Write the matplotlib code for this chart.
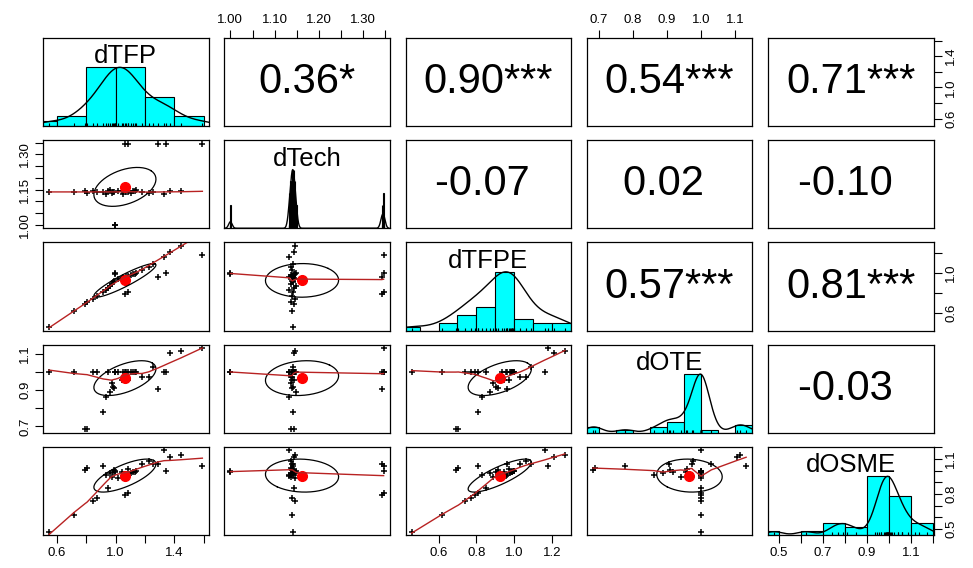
import numpy as np
import matplotlib
matplotlib.use('Agg')
import matplotlib.pyplot as plt
from matplotlib.patches import Rectangle

plt.rcParams['font.family'] = ['Liberation Sans', 'DejaVu Sans']

# --- data (one value per unit) ---
var_names = ['dTFP', 'dTech', 'dTFPE', 'dOTE', 'dOSME']

dTFP  = [0.546, 0.715, 0.790, 0.805, 0.845, 0.870, 0.915, 0.935, 0.950, 0.960, 0.972, 0.980, 0.990,
         1.016, 1.040, 1.050, 1.070, 1.085, 1.105, 1.120, 1.135, 1.142, 1.180, 1.225, 1.255, 1.330,
         1.370, 1.448, 1.066, 1.086, 1.290, 1.345, 1.592, 0.994, 0.998]
dTech = [1.141, 1.139, 1.143, 1.136, 1.146, 1.139, 1.141, 1.133, 1.143, 1.149, 1.136, 1.141, 1.139,
         1.146, 1.143, 1.133, 1.141, 1.139, 1.136, 1.146, 1.143, 1.149, 1.139, 1.136, 1.141, 1.133,
         1.143, 1.146, 1.342, 1.346, 1.342, 1.346, 1.346, 1.000, 1.000]
dTFPE = [0.458, 0.620, 0.690, 0.705, 0.740, 0.770, 0.810, 0.830, 0.850, 0.870, 0.890, 0.905, 0.915,
         0.935, 0.945, 0.955, 0.962, 0.970, 0.978, 0.985, 0.990, 0.997, 1.030, 1.060, 1.090, 1.160,
         1.210, 1.267, 0.790, 0.810, 0.960, 1.000, 1.180, 0.994, 0.990]
dOTE  = [1.000, 1.000, 0.683, 0.688, 1.000, 1.000, 0.778, 0.862, 1.000, 0.888, 0.940, 0.918, 0.910,
         1.000, 0.955, 1.000, 1.000, 0.958, 1.000, 1.000, 1.000, 1.000, 0.973, 0.975, 1.030, 1.000,
         1.104, 1.113, 1.000, 1.000, 0.905, 1.000, 1.132, 1.000, 1.000]
dOSME = [0.477, 0.620, 1.010, 1.025, 0.740, 0.770, 1.040, 0.963, 0.850, 0.980, 0.947, 0.985, 1.005,
         0.935, 0.990, 0.955, 0.962, 1.012, 0.978, 0.985, 0.990, 0.997, 1.058, 1.087, 1.058, 1.175,
         1.120, 1.138, 0.790, 0.810, 1.060, 0.995, 1.040, 0.994, 0.990]

# correlation labels shown in the upper panels (row by row)
cor_text = ['0.36*', '0.90***', '0.54***', '0.71***',
            '-0.07 ', '0.02 ', '-0.10 ',
            '0.57***', '0.81***',
            '-0.03 ']

# how many ticks between labels (R drops labels that would overlap)
x_label_step = [2, 2, 1, 1, 2]
y_label_step = [2, 3, 2, 2, 3]

data = [np.array(v, dtype=float) for v in (dTFP, dTech, dTFPE, dOTE, dOSME)]
n = len(data)


def pretty_unit(lo, hi, ndiv, h, h5):
    cell = (hi - lo) / ndiv
    U = 10 ** np.floor(np.log10(cell))
    unit = U
    if 2 * U - cell < h * (cell - unit):
        unit = 2 * U
        if 5 * U - cell < h5 * (cell - unit):
            unit = 5 * U
            if 10 * U - cell < h * (cell - unit):
                unit = 10 * U
    return unit


def usr_range(v):
    d = 0.04 * (v.max() - v.min())
    return v.min() - d, v.max() + d


def axis_ticks(lo, hi):
    unit = pretty_unit(lo, hi, 5, 0.8, 1.7)
    k0 = np.ceil(lo / unit - 1e-7)
    k1 = np.floor(hi / unit + 1e-7)
    ticks = np.arange(k0, k1 + 1) * unit
    dec = int(max(0, -np.floor(np.log10(unit) + 1e-9)))
    return ticks, ['%.*f' % (dec, t) for t in ticks]


def hist_breaks(v):
    nclass = int(np.ceil(np.log2(len(v)) + 1))
    unit = pretty_unit(v.min(), v.max(), nclass, 1.5, 2.75)
    k0 = np.floor(v.min() / unit + 1e-7)
    k1 = np.ceil(v.max() / unit - 1e-7)
    return np.round(np.arange(k0, k1 + 1) * unit, 10)


def density(v):
    q1, q3 = np.percentile(v, [25, 75])
    bw = 1.06 * min(np.std(v, ddof=1), (q3 - q1) / 1.34) * len(v) ** -0.2 * 1.2
    grid = np.linspace(v.min() - 3 * bw, v.max() + 3 * bw, 512)
    d = np.exp(-0.5 * ((grid[:, None] - v[None, :]) / bw) ** 2).sum(axis=1)
    return grid, d / d.max()


def local_fit(x, y, rw, i, ns, rng):
    d = np.abs(x - x[i])
    h = np.sort(d)[ns - 1]
    if h > 0:
        u = d / h
        w = np.where(u < 0.999, (1 - np.clip(u, 0, 1) ** 3) ** 3, 0.0)
        w[u <= 0.001] = 1.0
    else:
        w = (d == 0).astype(float)
    w = w * rw
    sw = w.sum()
    if sw <= 0:
        return y[i]
    xm = (w * x).sum() / sw
    ym = (w * y).sum() / sw
    vx = (w * (x - xm) ** 2).sum()
    if np.sqrt(vx / sw) > 0.001 * rng:
        b = (w * (x - xm) * (y - ym)).sum() / vx
        return ym + b * (x[i] - xm)
    return ym


def lowess(x, y, f=2/3, iters=3):
    o = np.argsort(x, kind='stable')
    x = x[o]; y = y[o]
    m = len(x)
    ns = max(2, min(m, int(f * m + 1e-7)))
    rng = x.max() - x.min()
    delta = 0.01 * rng
    rw = np.ones(m)
    fit = np.zeros(m)
    for it in range(iters + 1):
        last = -1
        i = 0
        while True:
            fit[i] = local_fit(x, y, rw, i, ns, rng)
            if last < i - 1:
                den = x[i] - x[last]
                for k in range(last + 1, i):
                    a = (x[k] - x[last]) / den if den > 0 else 0
                    fit[k] = a * fit[i] + (1 - a) * fit[last]
            last = i
            cut = x[last] + delta
            i = last + 1
            while i < m:
                if x[i] > cut:
                    break
                if x[i] == x[last]:
                    fit[i] = fit[last]
                    last = i
                i += 1
            i = max(last + 1, i - 1)
            if last >= m - 1:
                break
        if it == iters:
            break
        res = y - fit
        med = np.median(np.abs(res))
        if med == 0:
            break
        u = res / (6 * med)
        rw = np.where(np.abs(u) < 1, (1 - u ** 2) ** 2, 0.0)
    return x, fit


def ellipse(xm, ym, xs, ys, r, seg=51):
    ang = np.arange(seg + 1) * 2 * np.pi / seg
    circ = np.column_stack([np.cos(ang), np.sin(ang)])
    th = np.sign(r) / np.sqrt(2) if abs(r) > 0 else 1 / np.sqrt(2)
    shape = np.diag([np.sqrt(1 + r), np.sqrt(1 - r)]) @ np.array([[th, th], [-th, th]])
    e = circ @ shape
    return e[:, 0] * xs + xm, e[:, 1] * ys + ym


def draw_diag(ax, v, ylo, yhi, name):
    fy = lambda f: ylo + np.asarray(f) / 1.5 * (yhi - ylo)
    vals, counts = np.unique(v, return_counts=True)
    if len(vals) < 11:
        y = counts / counts.max()
        ib = np.min(np.diff(vals)) * (len(vals) - 1) / 41
        for b, h in zip(vals, y):
            ax.add_patch(Rectangle((b - ib, ylo), 2 * ib, fy(h) - ylo,
                                   facecolor='cyan', edgecolor='black', lw=0.8))
    else:
        br = hist_breaks(v)
        idx = np.clip(np.searchsorted(br, np.round(v, 10), side='left'), 1, len(br) - 1)
        cnt = np.bincount(idx - 1, minlength=len(br) - 1)
        y = cnt / cnt.max()
        for a, b, h in zip(br[:-1], br[1:], y):
            ax.add_patch(Rectangle((a, ylo), b - a, fy(h) - ylo,
                                   facecolor='cyan', edgecolor='black', lw=0.8))
    gx, gy = density(v)
    ax.plot(gx, fy(gy), color='black', lw=1.0)
    ax.vlines(v, ylo, fy(0.05), color='black', lw=0.8)
    ax.text(0.5, 0.79, name, transform=ax.transAxes, ha='center', va='center', fontsize=18.5)


def draw_scatter(ax, x, y):
    ax.plot(x, y, '+', color='black', ms=4, mew=1.1, zorder=2)
    r = np.corrcoef(x, y)[0, 1]
    ex, ey = ellipse(x.mean(), y.mean(), x.std(ddof=1), y.std(ddof=1), r)
    ax.plot(x.mean(), y.mean(), 'o', color='red', ms=7, zorder=3)
    ax.plot(ex, ey, color='black', lw=0.9, zorder=3)
    lx, ly = lowess(x, y)
    ax.plot(lx, ly, color='#b82222', lw=1.0, zorder=4)


fig = plt.figure(figsize=(9.73, 5.68), dpi=100)
W, H = 973.0, 568.0
col_left, col_pitch, pw = 43.0, 181.25, 165.5
row_top, row_pitch, ph = 38.0, 102.25, 88.0

lims = [usr_range(v) for v in data]
cor_iter = iter(cor_text)

for i in range(n):
    for j in range(n):
        x0 = col_left + j * col_pitch
        y0 = row_top + i * row_pitch
        ax = fig.add_axes([x0 / W, 1 - (y0 + ph) / H, pw / W, ph / H])
        ax.set_xlim(lims[j])
        ax.set_ylim(lims[i])
        ax.set_xticks([])
        ax.set_yticks([])
        for s in ax.spines.values():
            s.set_linewidth(0.9)

        if i == j:
            draw_diag(ax, data[i], lims[i][0], lims[i][1], var_names[i])
        elif i < j:
            ax.text(0.5, 0.5, next(cor_iter), transform=ax.transAxes,
                    ha='center', va='center', fontsize=30)
        else:
            draw_scatter(ax, data[j], data[i])

        tp = dict(direction='out', length=5.5, width=0.8, labelsize=9.5, pad=3)
        if (i == 0 and j % 2 == 1) or (i == n - 1 and j % 2 == 0):
            t, lab = axis_ticks(*lims[j])
            lab = [l if k % x_label_step[j] == 0 else '' for k, l in enumerate(lab)]
            ax.set_xticks(t)
            ax.set_xticklabels(lab)
            if i == 0:
                ax.tick_params(axis='x', top=True, bottom=False, labeltop=True,
                               labelbottom=False, **tp)
            else:
                ax.tick_params(axis='x', **tp)
        if (j == 0 and i % 2 == 1) or (j == n - 1 and i % 2 == 0):
            t, lab = axis_ticks(*lims[i])
            lab = [l if k % y_label_step[i] == 0 else '' for k, l in enumerate(lab)]
            ax.set_yticks(t)
            ax.set_yticklabels(lab, rotation=90, va='center')
            if j == n - 1:
                ax.tick_params(axis='y', left=False, right=True, labelleft=False,
                               labelright=True, **tp)
            else:
                ax.tick_params(axis='y', **tp)
        ax.set_xlim(lims[j])
        ax.set_ylim(lims[i])

fig.savefig('out.png', dpi=100, facecolor='white')
